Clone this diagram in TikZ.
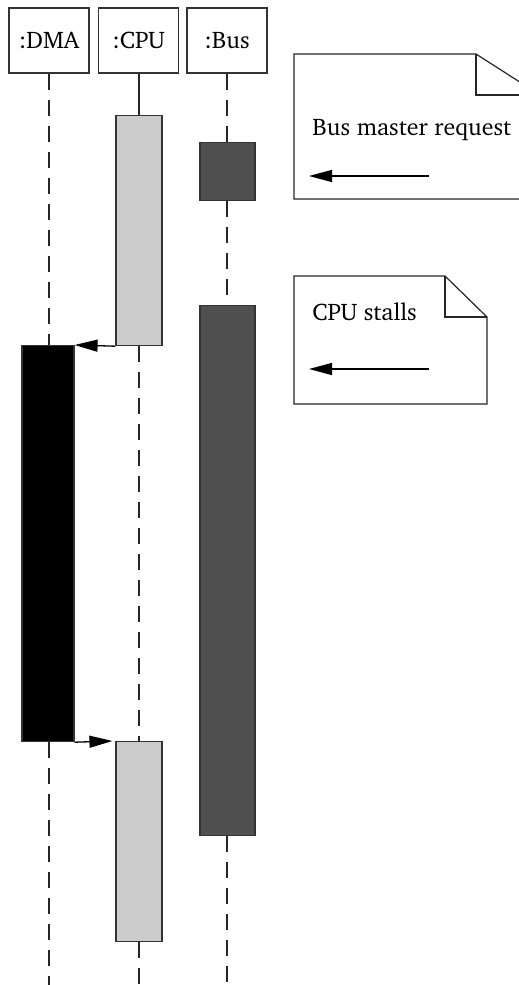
\documentclass[tikz,border=0pt]{standalone}
\usepackage[T1]{fontenc}
\usepackage{charter}
\usetikzlibrary{arrows.meta}
\definecolor{busgray}{HTML}{505050}
\definecolor{cpugray}{HTML}{CCCCCC}
\begin{document}
\begin{tikzpicture}[x=0.5pt,y=-0.5pt,
  txt/.style={font=\fontsize{12}{14}\selectfont},
  head/.style={txt, draw=black!80, line width=0.6pt, minimum width=40pt, minimum height=32.5pt, inner sep=0pt},
  act/.style={draw=black!80, line width=0.6pt, inner sep=0pt, anchor=north},
  life/.style={line width=0.65pt, black!85, dash pattern=on 8pt off 5pt},
  msg/.style={line width=0.65pt, -{Triangle[length=11.5pt,width=6pt]}},
  notebox/.style={draw=black!85, line width=0.6pt, fill=white},
]
\useasboundingbox (0,0) rectangle (519,985);
% headers
\node[head] (dma) at (49,40.5) {:DMA};
\node[head] (cpu) at (138.5,40.5) {:CPU};
\node[head] (bus) at (227,40.5) {:Bus};
% activations
\node[act, fill=cpugray, minimum width=23pt, minimum height=115pt] (cpu1) at (139,115) {};
\node[act, fill=busgray, minimum width=27.5pt, minimum height=29pt] (bus1) at (227.5,142) {};
\node[act, fill=busgray, minimum width=27.5pt, minimum height=265pt] (bus2) at (227.5,305) {};
\node[act, fill=black, minimum width=26pt, minimum height=198pt] (dma1) at (48,345) {};
\node[act, fill=cpugray, minimum width=23pt, minimum height=100pt] (cpu2) at (139,741) {};
% lifeline ends
\coordinate (dmaend) at (49,985);
\coordinate (cpuend) at (139,985);
\coordinate (busend) at (227,985);
% lifelines
\draw[life] (dma.south) -- (dma.south |- dma1.north);
\draw[life] (dma.south |- dma1.south) -- (dmaend);
\draw[line width=0.65pt, black!85] (cpu1.north |- cpu.south) -- (cpu1.north);
\draw[life] (cpu1.south) -- (cpu2.north);
\draw[life] (cpu2.south) -- (cpuend);
\draw[life] (bus.south) -- (bus.south |- bus1.north);
\draw[life] (bus.south |- bus1.south) -- (bus.south |- bus2.north);
\draw[life] (bus.south |- bus2.south) -- (busend);
% messages
\draw[msg] (cpu1.south west) -- (dma1.north east);
\draw[msg] (dma1.south east) -- ([xshift=-1.5pt]cpu2.north west);
% note 1
\draw[notebox] (294,54) -- (476,54) -- (540,95) -- (540,199) -- (294,199) -- cycle;
\draw[notebox, fill=none] (476,54) -- (476,95) -- (540,95);
\node[txt, anchor=base west, inner sep=0pt] (n1) at (312,135) {Bus master request};
\coordinate (n1a) at (429,176);
\coordinate (n1b) at (309,176);
\draw[msg] (n1a) -- (n1b);
% note 2
\draw[notebox] (294,276) -- (445,276) -- (487,317) -- (487,404) -- (294,404) -- cycle;
\draw[notebox, fill=none] (445,276) -- (445,317) -- (487,317);
\node[txt, anchor=base west, inner sep=0pt] (n2) at (312,320) {CPU stalls};
\coordinate (n2a) at (429,369);
\coordinate (n2b) at (309,369);
\draw[msg] (n2a) -- (n2b);
\end{tikzpicture}
\end{document}
